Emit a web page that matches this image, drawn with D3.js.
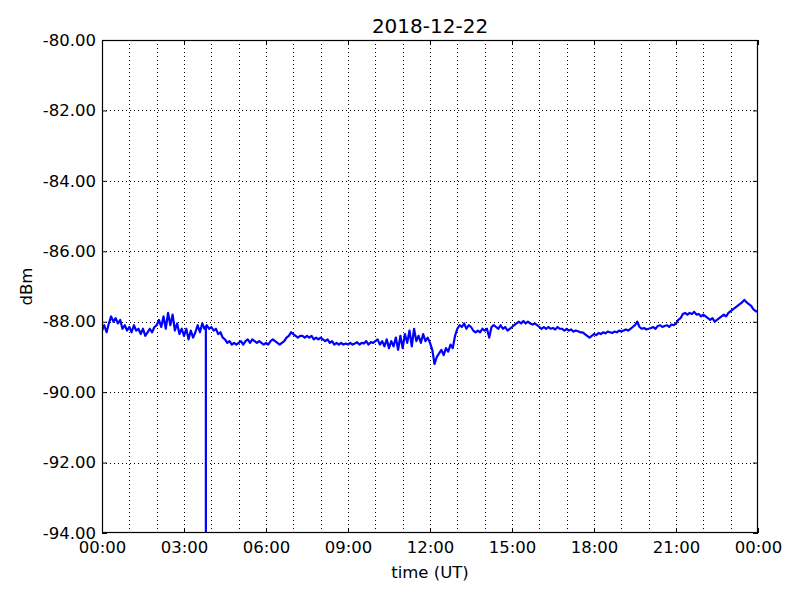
<!DOCTYPE html>
<html><head><meta charset="utf-8">
<script src="https://cdn.jsdelivr.net/npm/d3@7"></script>
<style>body{margin:0;background:#fff}svg{display:block}text{font-family:"DejaVu Sans",sans-serif;fill:#000}</style>
</head><body>
<svg id="c" width="800" height="600"></svg>
<script>
const title = "2018-12-22";
const xLabel = "time (UT)";
const yLabel = "dBm";
const xTickHours = [0,3,6,9,12,15,18,21,24];
const xTickLabels = ["00:00","03:00","06:00","09:00","12:00","15:00","18:00","21:00","00:00"];
const yTicks = [-94,-92,-90,-88,-86,-84,-82,-80];
const sampleMinutes = 5;
// signal level (dBm) every 5 minutes from 00:00 to 24:00
const values = [
-88.25,-88.1,-88.3,-88.05,-87.85,-88.0,-87.9,-88.05,-87.95,-88.2,-88.1,-88.25,
-88.15,-88.3,-88.1,-88.25,-88.2,-88.35,-88.2,-88.4,-88.3,-88.2,-88.3,-88.15,
-88.1,-87.95,-88.15,-87.85,-88.2,-87.75,-88.1,-87.8,-88.25,-88.05,-88.35,-88.2,
-88.4,-88.2,-88.5,-88.25,-88.45,-88.3,-88.1,-88.3,-88.05,-88.2,-88.1,-88.2,
-88.15,-88.25,-88.2,-88.35,-88.3,-88.45,-88.5,-88.6,-88.55,-88.65,-88.6,-88.65,
-88.6,-88.55,-88.65,-88.55,-88.5,-88.6,-88.5,-88.55,-88.6,-88.55,-88.6,-88.65,
-88.6,-88.65,-88.55,-88.5,-88.55,-88.6,-88.65,-88.6,-88.55,-88.45,-88.4,-88.3,
-88.35,-88.4,-88.45,-88.4,-88.4,-88.45,-88.4,-88.45,-88.4,-88.5,-88.45,-88.5,
-88.45,-88.5,-88.55,-88.5,-88.6,-88.55,-88.65,-88.6,-88.65,-88.6,-88.65,-88.62,
-88.65,-88.6,-88.65,-88.62,-88.58,-88.65,-88.6,-88.62,-88.55,-88.65,-88.58,-88.6,
-88.55,-88.5,-88.65,-88.55,-88.7,-88.5,-88.75,-88.55,-88.7,-88.45,-88.8,-88.4,
-88.75,-88.35,-88.6,-88.25,-88.7,-88.2,-88.55,-88.4,-88.6,-88.35,-88.55,-88.45,
-88.6,-88.8,-89.2,-89.0,-88.9,-88.8,-88.95,-88.75,-88.85,-88.65,-88.75,-88.4,
-88.2,-88.1,-88.15,-88.05,-88.2,-88.1,-88.15,-88.25,-88.3,-88.25,-88.3,-88.2,
-88.25,-88.2,-88.45,-88.15,-88.1,-88.15,-88.2,-88.1,-88.2,-88.15,-88.25,-88.2,
-88.15,-88.1,-88.05,-88.0,-88.05,-87.98,-88.05,-88.0,-88.05,-88.08,-88.05,-88.1,
-88.15,-88.2,-88.15,-88.2,-88.15,-88.2,-88.18,-88.22,-88.15,-88.2,-88.2,-88.25,
-88.2,-88.25,-88.22,-88.28,-88.25,-88.27,-88.3,-88.3,-88.35,-88.4,-88.45,-88.4,
-88.35,-88.38,-88.32,-88.35,-88.3,-88.33,-88.28,-88.3,-88.32,-88.28,-88.3,-88.25,
-88.28,-88.25,-88.22,-88.25,-88.2,-88.15,-88.1,-88.0,-88.15,-88.2,-88.18,-88.22,
-88.2,-88.18,-88.15,-88.2,-88.12,-88.1,-88.15,-88.12,-88.1,-88.15,-88.08,-88.1,
-88.05,-87.95,-87.9,-87.78,-87.75,-87.8,-87.75,-87.78,-87.72,-87.8,-87.78,-87.85,
-87.8,-87.85,-87.9,-87.95,-87.9,-88.0,-87.95,-87.9,-87.85,-87.8,-87.85,-87.75,
-87.7,-87.65,-87.6,-87.55,-87.5,-87.45,-87.38,-87.45,-87.5,-87.55,-87.65,-87.7,
-87.72];
// short dropout
const spikeHour = 3.8;
const spikeValue = -96;

const svg = d3.select("#c");
const m = {l:102, r:758, t:40, b:533};
const x = d3.scaleLinear().domain([0,24]).range([m.l,m.r]);
const y = d3.scaleLinear().domain([-94,-80]).range([m.b,m.t]);

svg.append("defs").append("clipPath").attr("id","clip")
  .append("rect").attr("x",m.l).attr("y",m.t).attr("width",m.r-m.l).attr("height",m.b-m.t);

// grid
const g = svg.append("g");
g.selectAll(".vg").data(d3.range(1,24)).join("line")
  .attr("x1",d=>Math.round(x(d))+0.5).attr("x2",d=>Math.round(x(d))+0.5)
  .attr("y1",m.t).attr("y2",m.b)
  .attr("stroke","#000").attr("stroke-width",1).attr("stroke-dasharray","1,3");
g.selectAll(".hg").data(yTicks.slice(1,-1)).join("line")
  .attr("y1",d=>Math.round(y(d))+0.5).attr("y2",d=>Math.round(y(d))+0.5)
  .attr("x1",m.l).attr("x2",m.r)
  .attr("stroke","#000").attr("stroke-width",1).attr("stroke-dasharray","1,3");

// data points
const pts = values.map((v,i)=>[i*sampleMinutes/60, v]);
const si = pts.findIndex(p=>p[0] > spikeHour);
const before = pts[si-1], after = pts[si];
const vAt = before[1] + (after[1]-before[1])*(spikeHour-before[0])/(after[0]-before[0]);
pts.splice(si,0,[spikeHour,vAt],[spikeHour,spikeValue],[spikeHour,vAt]);

svg.append("path").datum(pts)
  .attr("clip-path","url(#clip)")
  .attr("fill","none").attr("stroke","#0000ff").attr("stroke-width",2.2)
  .attr("stroke-linejoin","round")
  .attr("d", d3.line().x(d=>x(d[0])).y(d=>y(d[1])));

// frame
svg.append("rect").attr("x",m.l+0.5).attr("y",m.t+0.5).attr("width",m.r-m.l-1).attr("height",m.b-m.t-1)
  .attr("fill","none").attr("stroke","#000").attr("stroke-width",1.2);

// axes
const fmt = d => d3.format(".2f")(d).replace("\u2212","-");
const xAxis = d3.axisBottom(x).tickValues(xTickHours).tickFormat((d,i)=>xTickLabels[i]).tickSizeInner(-5).tickSizeOuter(0).tickPadding(10);
const xa = svg.append("g").attr("transform",`translate(0,${m.b})`).call(xAxis);
const xAxisTop = d3.axisTop(x).tickValues(xTickHours).tickFormat("").tickSizeInner(-5).tickSizeOuter(0);
const xt = svg.append("g").attr("transform",`translate(0,${m.t})`).call(xAxisTop);
const yAxis = d3.axisLeft(y).tickValues(yTicks).tickFormat(fmt).tickSizeInner(-5).tickSizeOuter(0).tickPadding(10);
const ya = svg.append("g").attr("transform",`translate(${m.l},0)`).call(yAxis);
const yAxisR = d3.axisRight(y).tickValues(yTicks).tickFormat("").tickSizeInner(-5).tickSizeOuter(0);
const yr = svg.append("g").attr("transform",`translate(${m.r},0)`).call(yAxisR);
[xa,xt,ya,yr].forEach(a=>{a.select(".domain").remove(); a.selectAll("line").attr("stroke","#000");});
xa.selectAll("text").attr("font-size",16.5).attr("font-family","DejaVu Sans").attr("dy","0.71em").attr("y",8);
ya.selectAll("text").attr("font-size",16.5).attr("font-family","DejaVu Sans").attr("x",-6);

svg.append("text").attr("x",(m.l+m.r)/2).attr("y",33).attr("text-anchor","middle")
  .attr("font-size",20).text(title);
svg.append("text").attr("x",(m.l+m.r)/2).attr("y",578).attr("text-anchor","middle")
  .attr("font-size",16.5).text(xLabel);
svg.append("text").attr("transform",`translate(32,${(m.t+m.b)/2}) rotate(-90)`).attr("text-anchor","middle")
  .attr("font-size",16.5).text(yLabel);
</script>
</body></html>
